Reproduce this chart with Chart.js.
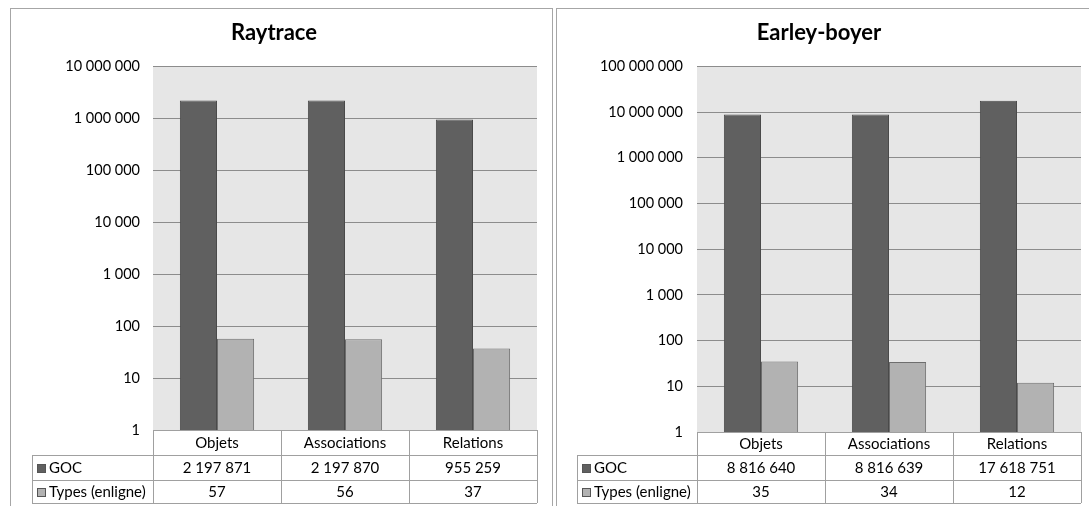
<!DOCTYPE html>
<html>
<head>
<meta charset="utf-8">
<script src="https://cdn.jsdelivr.net/npm/chart.js@4.4.1/dist/chart.umd.min.js"></script>
<style>
  body { margin: 0; background: #fff; width: 1089px; height: 506px; overflow: hidden; position: relative; }
  .panel { position: absolute; border: 1px solid #a6a6a6; border-bottom: none; }
  canvas { display: block; }
</style>
</head>
<body>
<div class="panel" style="left:10px; top:8px; width:541px; height:498px;"><canvas id="c1"></canvas></div>
<div class="panel" style="left:556px; top:8px; width:540px; height:498px;"><canvas id="c2"></canvas></div>
<script>
// donnees
var categories = ['Objets', 'Associations', 'Relations'];
var seriesNames = ['GOC', 'Types (enligne)'];
var raytraceGoc = [2197871, 2197870, 955259];
var raytraceTypes = [57, 56, 37];
var earleyGoc = [8816640, 8816639, 17618751];
var earleyTypes = [35, 34, 12];
var raytraceTicks = [1, 10, 100, 1000, 10000, 100000, 1000000, 10000000];
var earleyTicks = [1, 10, 100, 1000, 10000, 100000, 1000000, 10000000, 100000000];

var colors = ['#606060', '#b2b2b2'];
var borders = ['#4a4a4a', '#6e6e6e'];
var FONT = 'Lato, "Open Sans", sans-serif';

function fmt(v) {
  return String(v).replace(/\B(?=(\d{3})+(?!\d))/g, ' ');
}

// fond gris de la zone de tracé
var plotBg = {
  id: 'plotBg',
  beforeDraw: function(chart) {
    var a = chart.chartArea, c = chart.ctx;
    c.save();
    c.fillStyle = '#e6e6e6';
    c.fillRect(a.left, a.top, a.right - a.left, a.bottom - a.top);
    c.restore();
  }
};

// table de données sous le graphique
var dataTable = {
  id: 'dataTable',
  afterDraw: function(chart, args, opts) {
    var a = chart.chartArea, c = chart.ctx, x = chart.scales.x;
    var n = chart.data.labels.length;
    var colW = (a.right - a.left) / n;
    var rh = opts.rows;
    var y0 = a.bottom, y1 = y0 + rh[0], y2 = y1 + rh[1], y3 = y2 + rh[2];
    var hl = opts.headerLeft;
    c.save();
    c.strokeStyle = '#a0a0a0';
    c.lineWidth = 1;
    c.beginPath();
    // horizontales
    c.moveTo(a.left, y0 + 0.5); c.lineTo(a.right, y0 + 0.5);
    [y1, y2, y3].forEach(function(y) { c.moveTo(hl, y + 0.5); c.lineTo(a.right, y + 0.5); });
    // verticales
    c.moveTo(hl + 0.5, y1); c.lineTo(hl + 0.5, y3);
    for (var i = 0; i <= n; i++) {
      var xx = Math.round(a.left + i * colW) + 0.5;
      c.moveTo(xx, y0); c.lineTo(xx, y3);
    }
    c.stroke();

    c.fillStyle = '#000';
    c.font = '15px ' + FONT;
    c.textBaseline = 'middle';
    c.textAlign = 'center';
    chart.data.labels.forEach(function(lab, i) {
      var cx = x.getPixelForValue(i);
      c.fillText(lab, cx, (y0 + y1) / 2 + 1);
      chart.data.datasets.forEach(function(ds, j) {
        var yy = j === 0 ? (y1 + y2) / 2 : (y2 + y3) / 2;
        c.fillText(fmt(ds.data[i]), cx, yy + 1);
      });
    });
    c.textAlign = 'left';
    chart.data.datasets.forEach(function(ds, j) {
      var yy = j === 0 ? (y1 + y2) / 2 : (y2 + y3) / 2;
      c.fillStyle = ds.backgroundColor;
      c.fillRect(hl + 5, Math.round(yy - 4), 9, 9);
      c.strokeStyle = '#555';
      c.strokeRect(hl + 5.5, Math.round(yy - 4) + 0.5, 8, 8);
      c.fillStyle = '#000';
      c.fillText(ds.label, hl + 17, yy + 1);
    });
    c.restore();
  }
};

function makeChart(id, w, h, title, goc, types, ticks, o) {
  var cv = document.getElementById(id);
  cv.width = w; cv.height = h;
  return new Chart(cv.getContext('2d'), {
    type: 'bar',
    data: {
      labels: categories,
      datasets: [
        { label: seriesNames[0], data: goc, backgroundColor: colors[0], borderColor: borders[0], borderWidth: 1 },
        { label: seriesNames[1], data: types, backgroundColor: colors[1], borderColor: borders[1], borderWidth: 1 }
      ]
    },
    options: {
      responsive: false,
      animation: false,
      layout: { padding: { left: 0, right: o.right, top: 0, bottom: o.bottom } },
      datasets: { bar: { barPercentage: 1, categoryPercentage: 0.58 } },
      scales: {
        x: { display: false },
        y: {
          type: 'logarithmic',
          min: ticks[0],
          max: ticks[ticks.length - 1],
          afterBuildTicks: function(s) { s.ticks = ticks.map(function(v) { return { value: v }; }); },
          afterFit: function(s) { s.width = o.axisW; },
          border: { display: false },
          grid: { color: '#8c8c8c', drawTicks: false },
          ticks: {
            padding: o.pad,
            color: '#000',
            font: { family: FONT, size: 14.5 },
            callback: function(v) { return fmt(v); }
          }
        }
      },
      plugins: {
        legend: { display: false },
        tooltip: { enabled: false },
        title: {
          display: true, text: title, color: '#000',
          font: { family: FONT, size: 22, weight: 'bold' },
          padding: { top: 11, bottom: 20 }
        },
        dataTable: { rows: o.rows, headerLeft: o.headerLeft }
      }
    },
    plugins: [plotBg, dataTable]
  });
}

makeChart('c1', 541, 497, 'Raytrace', raytraceGoc, raytraceTypes, raytraceTicks,
  { right: 15, bottom: 76, axisW: 142, pad: 13, rows: [25, 25, 23], headerLeft: 21 });
makeChart('c2', 532, 497, 'Earley-boyer', earleyGoc, earleyTypes, earleyTicks,
  { right: 8, bottom: 74, axisW: 140, pad: 14, rows: [23, 25, 23], headerLeft: 20 });
</script>
</body>
</html>
